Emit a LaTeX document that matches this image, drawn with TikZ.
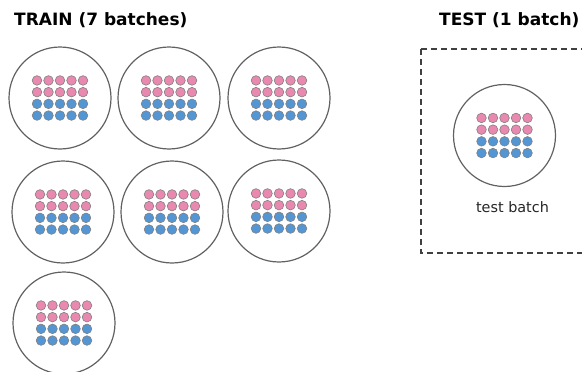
\documentclass[tikz,border=0pt]{standalone}
\usepackage{fontspec}
\setmainfont{DejaVu Sans}
\usetikzlibrary{calc}
\definecolor{dpink}{RGB}{233,137,176}
\definecolor{dblue}{RGB}{84,150,212}
\begin{document}
\begin{tikzpicture}[x=1pt,y=-1pt,
  batch/.style={circle,draw=black!62,line width=1.2pt,minimum size=102pt,inner sep=0pt},
  dotp/.style={circle,fill=dpink,draw=black!50,line width=0.6pt,minimum size=9.6pt,inner sep=0pt},
  dotb/.style={dotp,fill=dblue},
  titletext/.style={font=\bfseries\fontsize{17}{20}\selectfont,inner sep=0pt,anchor=base west},
  labeltext/.style={font=\fontsize{14.4}{17}\selectfont,inner sep=0pt,anchor=base,text=black!85},
  testbox/.style={draw=black!75,line width=1.3pt,dash pattern=on 6pt off 4pt}]
\useasboundingbox (0,0) rectangle (582,372);
\clip (0,0) rectangle (582,372);

\node[titletext] (traintitle) at (14,26) {TRAIN (7 batches)};
\node[titletext] (testtitle) at (439,26) {TEST (1 batch)};

\draw[testbox] (421,49) rectangle (600,253);

\foreach \n/\x/\y in {b1/60/98, b2/169/98, b3/279/98, b4/63/212, b5/172/212, b6/279/211, b7/64/323, t1/504.5/135.5} {
  \node[batch] (\n) at (\x,\y) {};
  \foreach \i in {0,...,4} {
    \foreach \j in {0,1} {
      \node[dotp] (\n-\i-\j) at ($(\n)+({(\i-2)*11.5},{(\j-1.5)*11.7})$) {};
    }
    \foreach \j in {2,3} {
      \node[dotb] (\n-\i-\j) at ($(\n)+({(\i-2)*11.5},{(\j-1.5)*11.7})$) {};
    }
  }
}

\node[labeltext] (testlabel) at (512.5,212) {test batch};
\end{tikzpicture}
\end{document}
